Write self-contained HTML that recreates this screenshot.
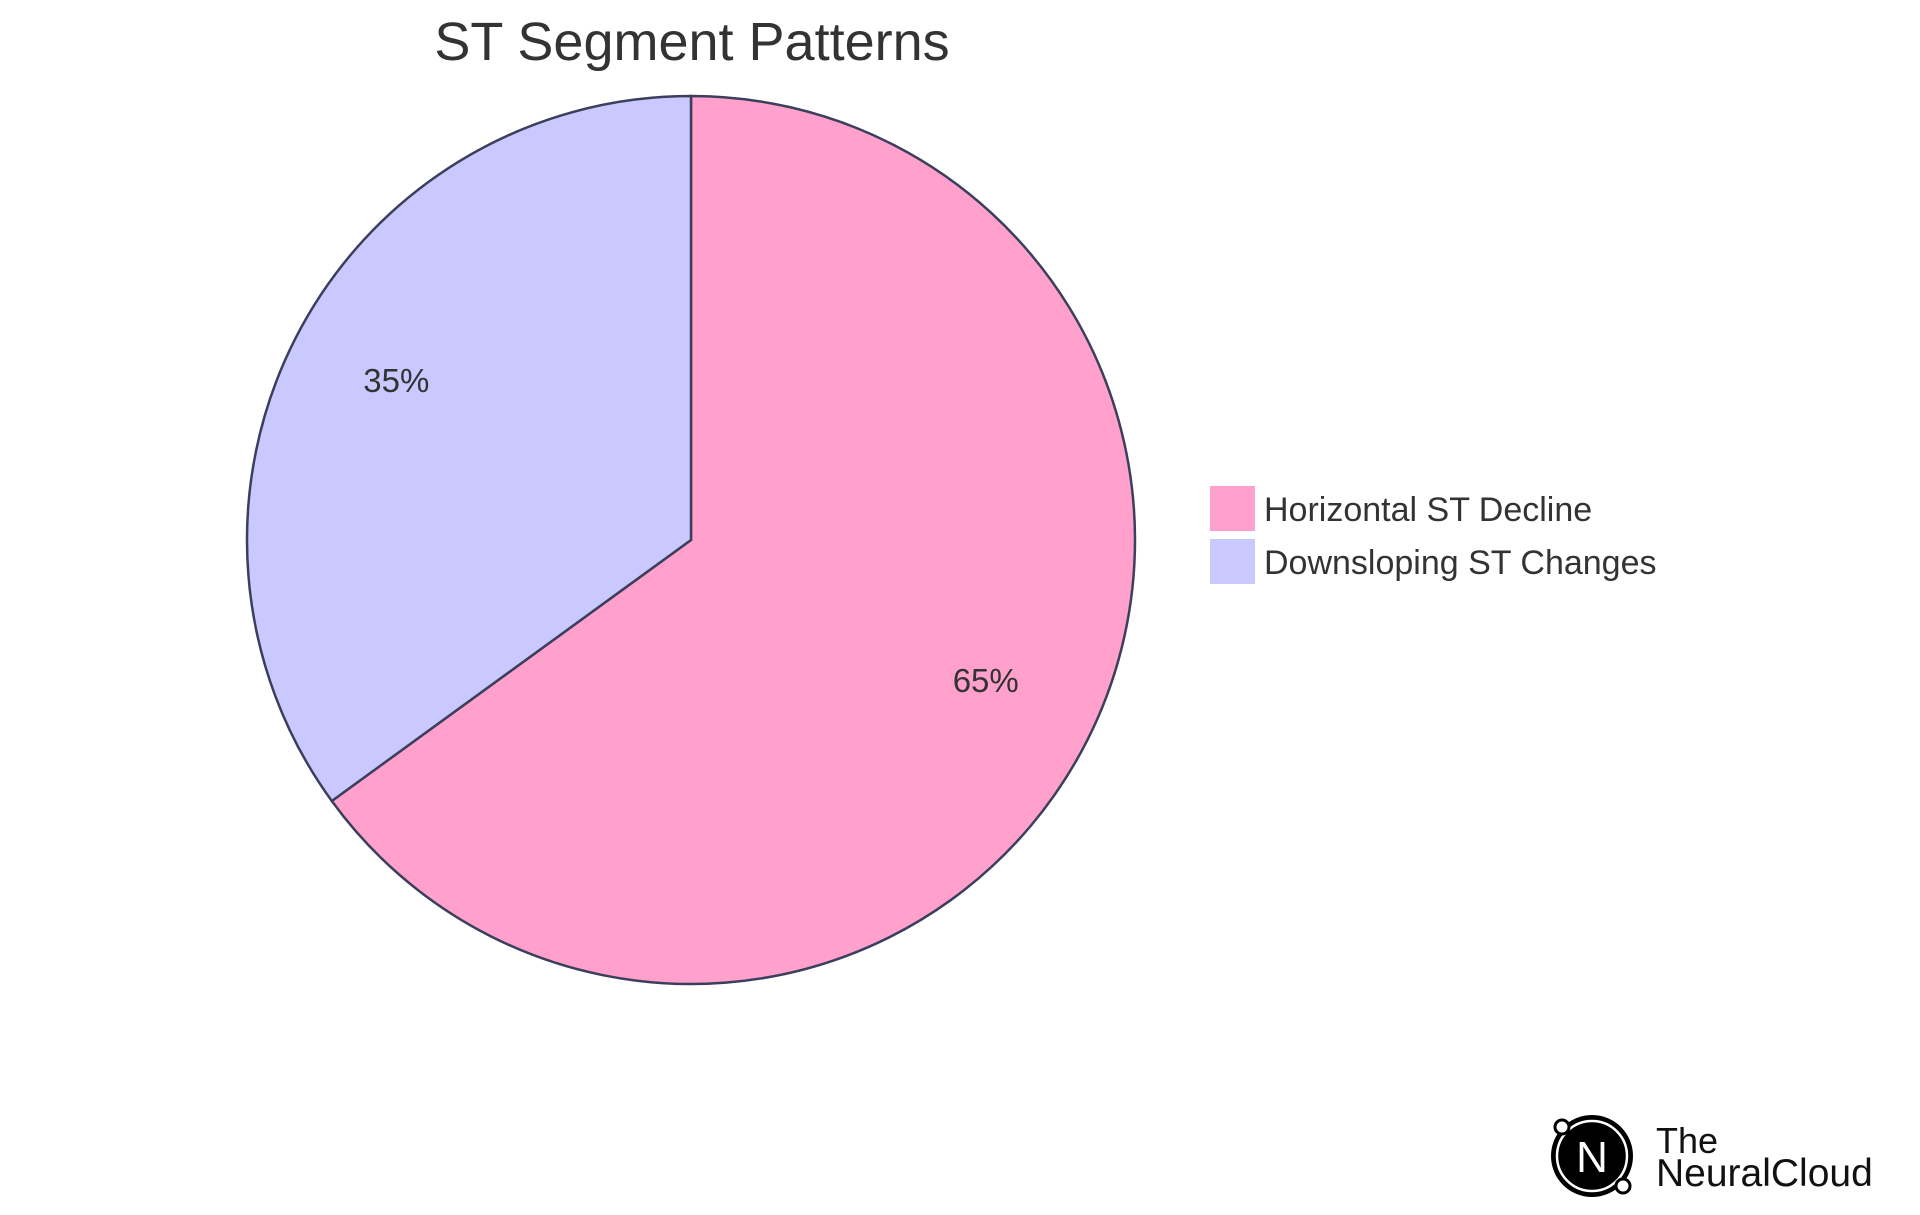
<!DOCTYPE html>
<html><head><meta charset="utf-8"><style>
html,body{margin:0;padding:0;background:#fff;}
svg{display:block;font-family:"Liberation Sans",sans-serif;}
</style></head><body>
<svg id="chart" width="1920" height="1215" viewBox="0 0 1920 1215">
<text x="692" y="60" text-anchor="middle" font-size="54" fill="#333">ST Segment Patterns</text>
<g id="slices"></g>
<g id="legend"></g>
<g>
<circle cx="1592" cy="1156" r="41" fill="#000"/>
<circle cx="1592" cy="1156" r="35" fill="none" stroke="#fff" stroke-width="2.5"/>
<circle cx="1562" cy="1127" r="7" fill="#fff" stroke="#000" stroke-width="3"/>
<circle cx="1623" cy="1186" r="7" fill="#fff" stroke="#000" stroke-width="3"/>
<text x="1592" y="1172" text-anchor="middle" font-size="44" fill="#fff">N</text>
<text x="1656" y="1153" font-size="36" fill="#111">The</text>
<text x="1656" y="1186" font-size="39" fill="#111">NeuralCloud</text>
</g>
</svg>
<script>
const categories=["Horizontal ST Decline","Downsloping ST Changes"];
const values=[65,35];
const colors=["#ffa1cc","#c9c9ff"];
const cx=691,cy=540,R=444;
const ns="http://www.w3.org/2000/svg";
const gS=document.getElementById('slices'),gL=document.getElementById('legend');
const total=values.reduce((a,b)=>a+b,0);
let a0=0;
values.forEach((v,i)=>{
  const a1=a0+v/total*2*Math.PI;
  const x0=cx+R*Math.sin(a0),y0=cy-R*Math.cos(a0),x1=cx+R*Math.sin(a1),y1=cy-R*Math.cos(a1);
  const p=document.createElementNS(ns,'path');
  p.setAttribute('d',`M${cx},${cy}L${x0},${y0}A${R},${R} 0 ${a1-a0>Math.PI?1:0} 1 ${x1},${y1}Z`);
  p.setAttribute('fill',colors[i]);p.setAttribute('stroke','#3b3f5c');p.setAttribute('stroke-width','2.5');
  
  
  gS.appendChild(p);
  const am=(a0+a1)/2,lr=R*0.745;
  const t=document.createElementNS(ns,'text');
  t.setAttribute('x',cx+lr*Math.sin(am));t.setAttribute('y',cy-lr*Math.cos(am)+2);
  t.setAttribute('text-anchor','middle');t.setAttribute('font-size','33');t.setAttribute('fill','#333');
  t.textContent=Math.round(v/total*100)+'%';
  
  
  gS.appendChild(t);
  a0=a1;
  const r=document.createElementNS(ns,'rect');
  r.setAttribute('x',1210);r.setAttribute('y',486+i*53);r.setAttribute('width',45);r.setAttribute('height',45);r.setAttribute('fill',colors[i]);
  
  
  gL.appendChild(r);
  const lt=document.createElementNS(ns,'text');
  lt.setAttribute('x',1264);lt.setAttribute('y',521+i*53);lt.setAttribute('font-size','34');lt.setAttribute('fill','#333');
  lt.textContent=categories[i];
  
  
  gL.appendChild(lt);
});
</script>
</body></html>
